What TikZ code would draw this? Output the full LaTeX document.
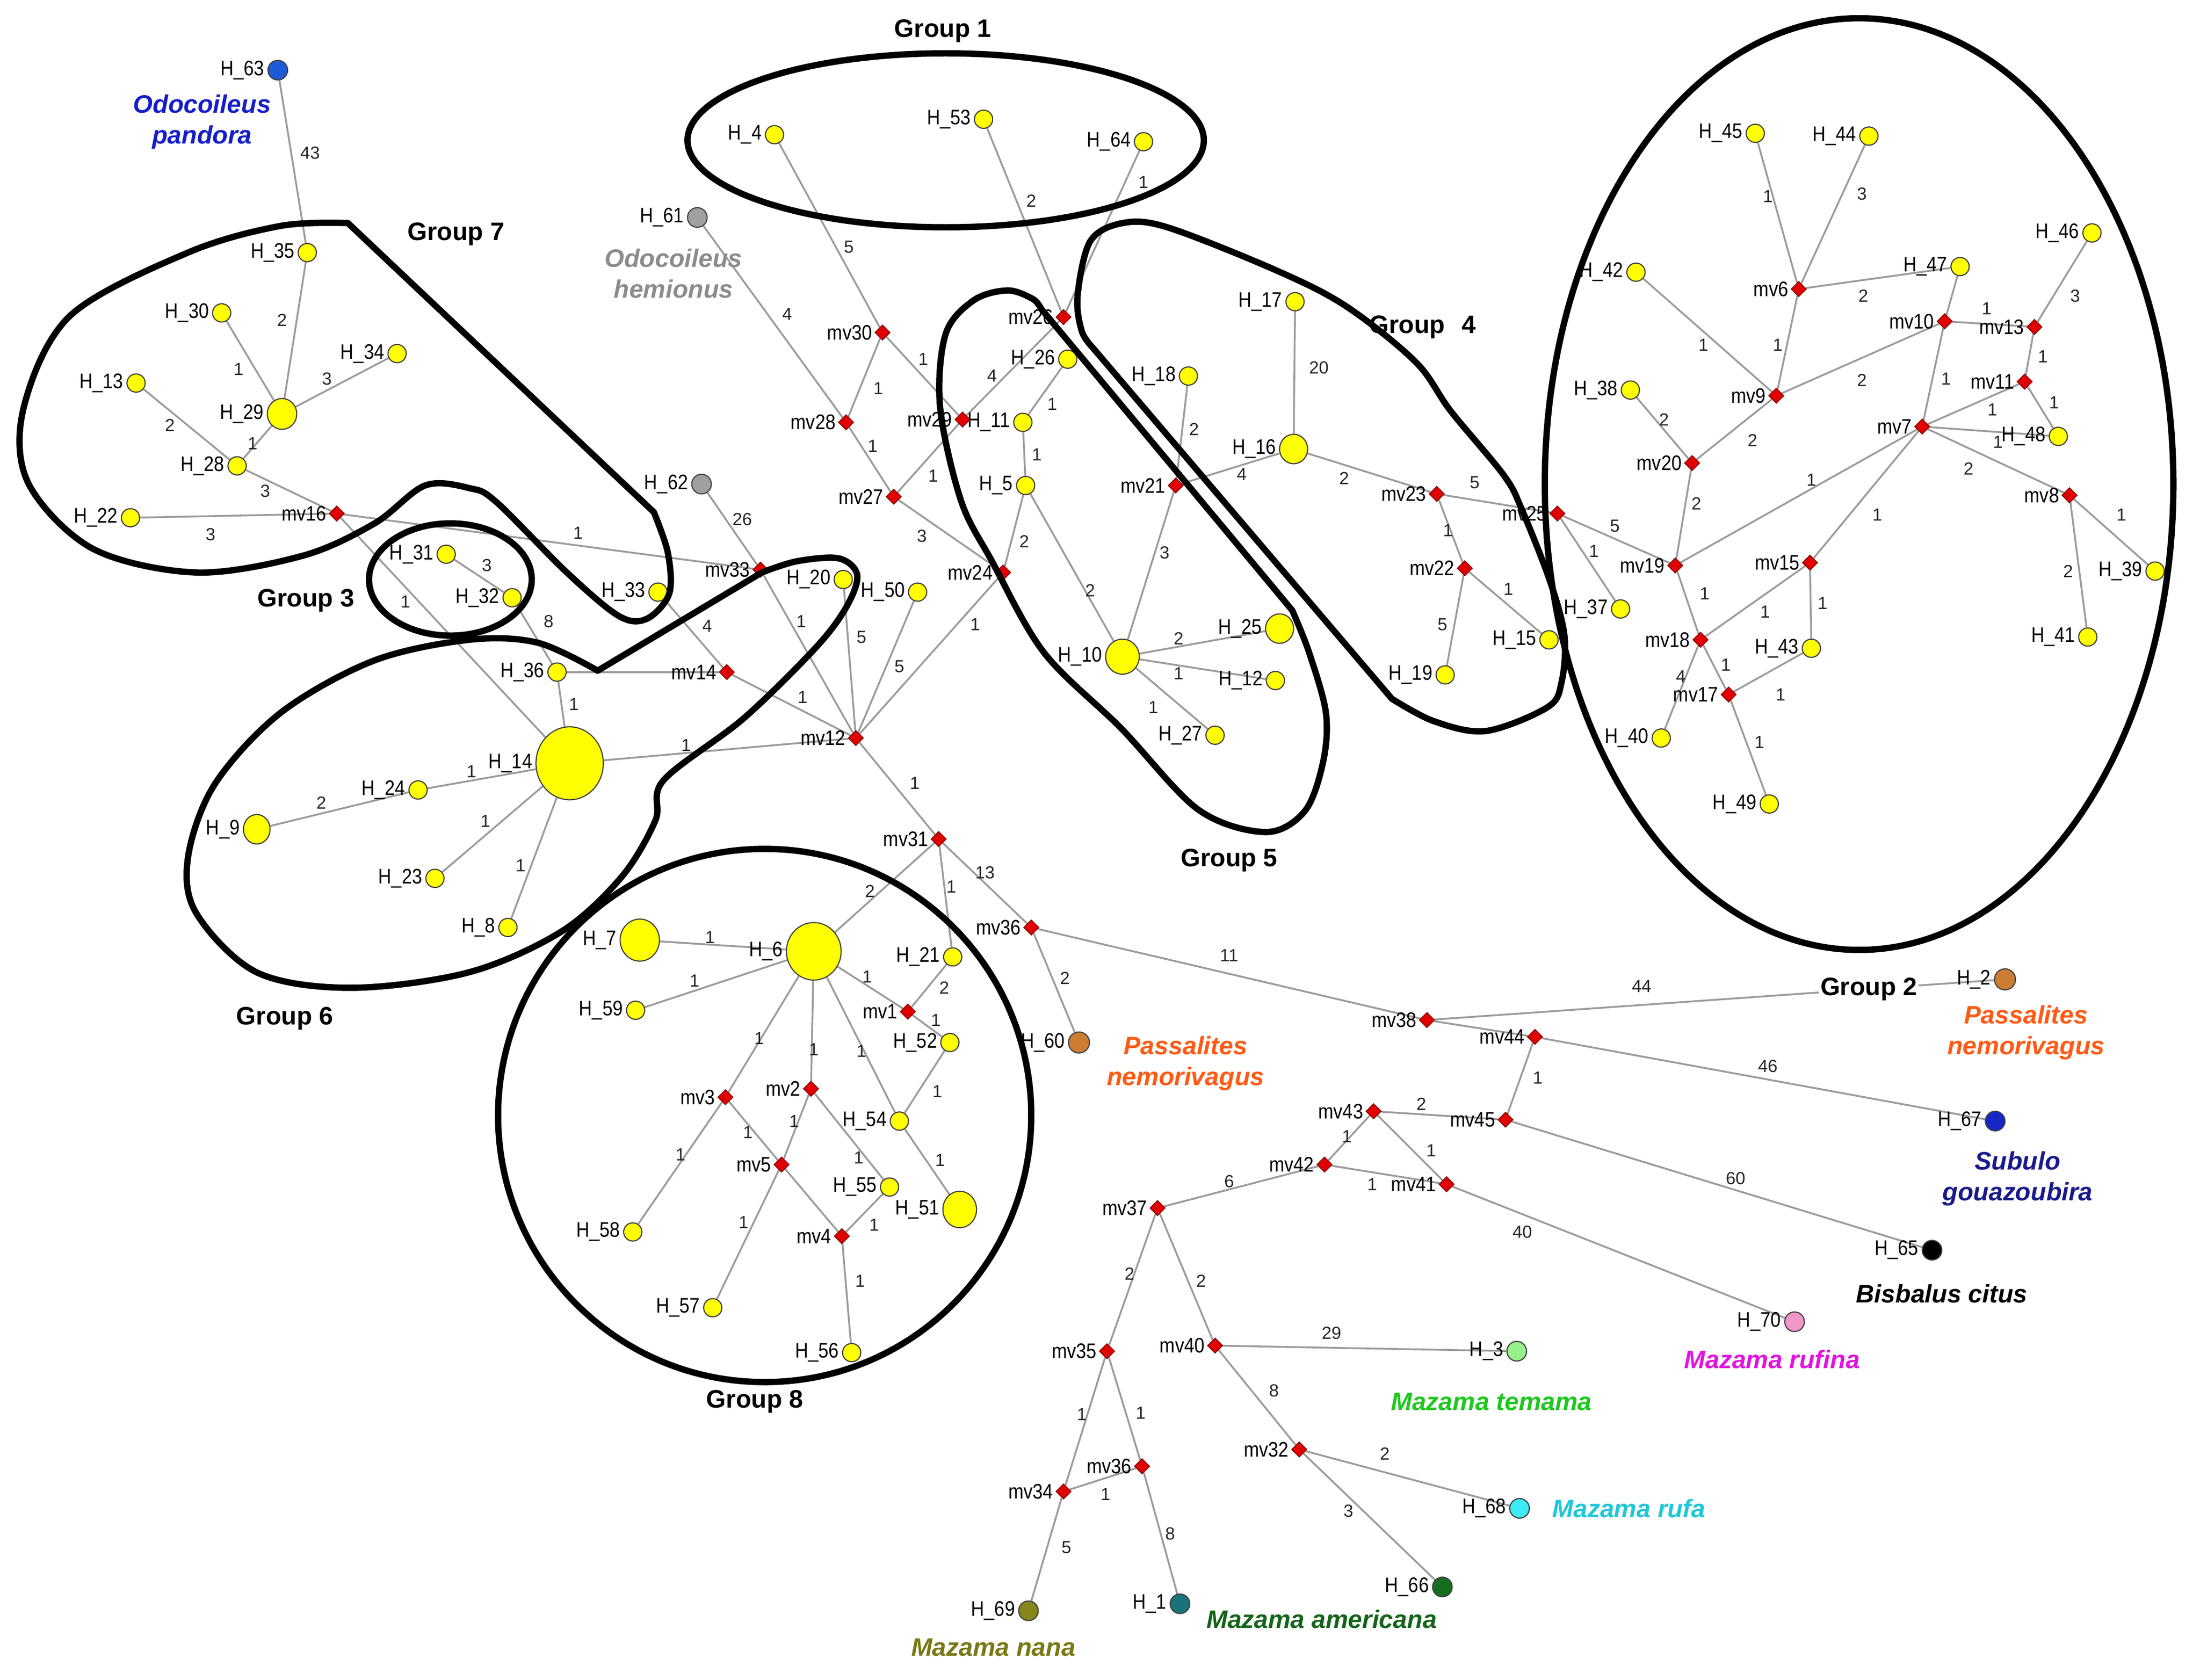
\documentclass[tikz,border=0pt]{standalone}
\usepackage{fontspec}
\setmainfont{Liberation Sans}
\newfontfamily\nlabfont[FakeStretch=0.87]{Liberation Sans}
\usetikzlibrary{shapes.geometric}
\pgfdeclarelayer{bg}
\pgfsetlayers{bg,main}
\definecolor{hyellow}{RGB}{255,255,0}
\definecolor{hblue}{RGB}{30,90,215}
\definecolor{hgrey}{RGB}{160,160,160}
\definecolor{hbrown}{RGB}{205,125,50}
\definecolor{hblueb}{RGB}{20,40,200}
\definecolor{hpink}{RGB}{240,150,200}
\definecolor{hlgreen}{RGB}{150,240,140}
\definecolor{hcyan}{RGB}{60,235,245}
\definecolor{hdgreen}{RGB}{20,110,30}
\definecolor{hteal}{RGB}{25,115,125}
\definecolor{holive}{RGB}{135,135,25}
\definecolor{mvred}{RGB}{225,0,0}
\definecolor{edgegray}{RGB}{155,155,155}
\definecolor{tpandora}{RGB}{20,30,200}
\definecolor{themionus}{RGB}{140,140,140}
\definecolor{tpassal}{RGB}{255,90,20}
\definecolor{tsubulo}{RGB}{25,25,140}
\definecolor{trufina}{RGB}{225,20,225}
\definecolor{ttemama}{RGB}{30,200,30}
\definecolor{trufa}{RGB}{30,200,215}
\definecolor{tamer}{RGB}{20,100,25}
\definecolor{tnana}{RGB}{120,120,20}
\tikzset{
  hap/.style={ellipse, draw=black!75, line width=0.8pt, fill=hyellow, inner sep=0pt, minimum width=13pt, minimum height=13pt},
  sz/.style 2 args={minimum width=#1pt, minimum height=#2pt},
  mvd/.style={diamond, draw=red!45!black, line width=0.5pt, fill=mvred, inner sep=0pt, minimum width=11pt, minimum height=11pt},
  nlab/.style={font=\nlabfont\fontsize{15}{15}\selectfont, inner sep=1pt, anchor=east},
  elab/.style={font=\fontsize{12.5}{12.5}\selectfont, text=black!85, inner sep=0pt},
  edge/.style={draw=edgegray, line width=1.3pt},
  grp/.style={draw=black, line width=4.5pt, line join=round, line cap=round},
  glab/.style={font=\bfseries\fontsize{18}{18}\selectfont, inner sep=1pt},
  sp/.style={font=\bfseries\itshape\fontsize{18}{22}\selectfont, align=center, inner sep=0pt},
}
\newcounter{elc}
\newcommand\hapn[5]{\node[hap,#4] (#1) at (#2,#3) {};\node[nlab] (#1-l) at ([xshift=-1pt]#1.west) {#5};}
\newcommand\mvn[4]{\node[mvd] (#1) at (#2,#3) {};\node[nlab] (#1-l) at ([xshift=-0.5pt]#1.west) {#4};}
\newcommand\ed[5]{\begin{pgfonlayer}{bg}\draw[edge] (#1) -- (#2);\end{pgfonlayer}\stepcounter{elc}\node[elab] (el\arabic{elc}) at (#4,#5) {#3};}
\newcommand\edn[2]{\begin{pgfonlayer}{bg}\draw[edge] (#1) -- (#2);\end{pgfonlayer}}
\begin{document}
\begin{tikzpicture}[x=1pt,y=-1pt]
\useasboundingbox (0,0) rectangle (1568,1197);
\begin{pgfonlayer}{bg}\fill[white] (0,0) rectangle (1568,1197);\end{pgfonlayer}
% haplotypes
\hapn{h63}{198}{50}{fill=hblue,sz={14}{14}}{H\_63}
\hapn{h35}{219}{180}{}{H\_35}
\hapn{h30}{158}{223}{}{H\_30}
\hapn{h34}{283}{252}{}{H\_34}
\hapn{h13}{97}{273}{}{H\_13}
\hapn{h29}{201}{295}{sz={21}{22}}{H\_29}
\hapn{h28}{169}{332}{}{H\_28}
\hapn{h22}{93}{369}{}{H\_22}
\hapn{h31}{318}{395}{}{H\_31}
\hapn{h32}{365}{426}{}{H\_32}
\hapn{h33}{469}{422}{}{H\_33}
\hapn{h36}{397}{479}{}{H\_36}
\hapn{h14}{406}{544}{sz={48}{52}}{H\_14}
\hapn{h24}{298}{563}{}{H\_24}
\hapn{h9}{183}{591}{sz={19}{21}}{H\_9}
\hapn{h23}{310}{626}{}{H\_23}
\hapn{h8}{362}{661}{}{H\_8}
\hapn{h61}{497}{155}{fill=hgrey,sz={14}{14}}{H\_61}
\hapn{h62}{500}{345}{fill=hgrey,sz={14}{14}}{H\_62}
\hapn{h4}{552}{96}{}{H\_4}
\hapn{h53}{701}{85}{}{H\_53}
\hapn{h64}{815}{101}{}{H\_64}
\hapn{h26}{761}{256}{}{H\_26}
\hapn{h11}{729}{301}{}{H\_11}
\hapn{h5}{731}{346}{}{H\_5}
\hapn{h20}{601}{413}{}{H\_20}
\hapn{h50}{654}{422}{}{H\_50}
\hapn{h17}{923}{215}{}{H\_17}
\hapn{h18}{847}{268}{}{H\_18}
\hapn{h16}{922}{320}{sz={20}{21}}{H\_16}
\hapn{h19}{1030}{481}{}{H\_19}
\hapn{h15}{1104}{456}{}{H\_15}
\hapn{h10}{800}{468}{sz={24}{25}}{H\_10}
\hapn{h25}{912}{448}{sz={20}{21}}{H\_25}
\hapn{h12}{909}{485}{}{H\_12}
\hapn{h27}{866}{524}{}{H\_27}
\hapn{h45}{1251}{95}{}{H\_45}
\hapn{h44}{1332}{97}{}{H\_44}
\hapn{h46}{1491}{166}{}{H\_46}
\hapn{h42}{1166}{194}{}{H\_42}
\hapn{h47}{1397}{190}{}{H\_47}
\hapn{h38}{1162}{278}{}{H\_38}
\hapn{h48}{1467}{311}{}{H\_48}
\hapn{h39}{1536}{407}{}{H\_39}
\hapn{h37}{1155}{434}{}{H\_37}
\hapn{h43}{1291}{462}{}{H\_43}
\hapn{h41}{1488}{454}{}{H\_41}
\hapn{h40}{1184}{526}{}{H\_40}
\hapn{h49}{1261}{573}{}{H\_49}
\hapn{h60}{769}{743}{fill=hbrown,sz={15}{15}}{H\_60}
\hapn{h7}{456}{670}{sz={28}{30}}{H\_7}
\hapn{h6}{580}{678}{sz={39}{41}}{H\_6}
\hapn{h59}{453}{720}{}{H\_59}
\hapn{h21}{679}{682}{}{H\_21}
\hapn{h52}{677}{743}{}{H\_52}
\hapn{h54}{641}{799}{}{H\_54}
\hapn{h55}{634}{846}{}{H\_55}
\hapn{h51}{684}{862}{sz={24}{26}}{H\_51}
\hapn{h58}{451}{878}{}{H\_58}
\hapn{h57}{508}{932}{}{H\_57}
\hapn{h56}{607}{964}{}{H\_56}
\hapn{h2}{1429}{698}{fill=hbrown,sz={15}{15}}{H\_2}
\hapn{h67}{1422}{799}{fill=hblueb,sz={14}{14}}{H\_67}
\hapn{h65}{1377}{891}{fill=black,sz={14}{14}}{H\_65}
\hapn{h70}{1279}{942}{fill=hpink,sz={14}{14}}{H\_70}
\hapn{h3}{1081}{963}{fill=hlgreen,sz={14}{14}}{H\_3}
\hapn{h68}{1083}{1075}{fill=hcyan,sz={14}{14}}{H\_68}
\hapn{h66}{1028}{1131}{fill=hdgreen,sz={14}{14}}{H\_66}
\hapn{h69}{733}{1148}{fill=holive,sz={14}{14}}{H\_69}
\hapn{h1}{841}{1143}{fill=hteal,sz={14}{14}}{H\_1}
% median vectors
\mvn{mv16}{240}{366}{mv16}
\mvn{mv33}{542}{406}{mv33}
\mvn{mv14}{518}{479}{mv14}
\mvn{mv12}{610}{526}{mv12}
\mvn{mv30}{629}{237}{mv30}
\mvn{mv28}{603}{301}{mv28}
\mvn{mv29}{686}{299}{mv29}
\mvn{mv26}{758}{226}{mv26}
\mvn{mv27}{637}{354}{mv27}
\mvn{mv24}{715}{408}{mv24}
\mvn{mv21}{838}{346}{mv21}
\mvn{mv23}{1024}{352}{mv23}
\mvn{mv22}{1044}{405}{mv22}
\mvn{mv25}{1110}{366}{mv25}
\mvn{mv6}{1282}{206}{mv6}
\mvn{mv10}{1386}{229}{mv10}
\mvn{mv13}{1450}{233}{mv13}
\mvn{mv9}{1266}{282}{mv9}
\mvn{mv11}{1443}{272}{mv11}
\mvn{mv7}{1370}{304}{mv7}
\mvn{mv20}{1206}{330}{mv20}
\mvn{mv8}{1475}{353}{mv8}
\mvn{mv19}{1194}{403}{mv19}
\mvn{mv15}{1290}{401}{mv15}
\mvn{mv18}{1212}{456}{mv18}
\mvn{mv17}{1232}{495}{mv17}
\mvn{mv31}{669}{598}{mv31}
\mvn{mv36a}{735}{661}{mv36}
\mvn{mv1}{647}{721}{mv1}
\mvn{mv2}{578}{776}{mv2}
\mvn{mv3}{517}{782}{mv3}
\mvn{mv5}{557}{830}{mv5}
\mvn{mv4}{600}{881}{mv4}
\mvn{mv38}{1017}{727}{mv38}
\mvn{mv44}{1094}{739}{mv44}
\mvn{mv43}{979}{792}{mv43}
\mvn{mv45}{1073}{798}{mv45}
\mvn{mv42}{944}{830}{mv42}
\mvn{mv41}{1031}{844}{mv41}
\mvn{mv37}{825}{861}{mv37}
\mvn{mv35}{789}{963}{mv35}
\mvn{mv40}{866}{959}{mv40}
\mvn{mv32}{926}{1033}{mv32}
\mvn{mv36b}{814}{1045}{mv36}
\mvn{mv34}{758}{1063}{mv34}
% edges
\ed{h63}{h35}{43}{221}{109}
\ed{h35}{h29}{2}{201}{228}
\ed{h30}{h29}{1}{170}{263}
\ed{h34}{h29}{3}{233}{270}
\ed{h29}{h28}{1}{180}{316}
\ed{h13}{h28}{2}{121}{303}
\ed{h28}{mv16}{3}{189}{350}
\ed{h22}{mv16}{3}{150}{381}
\ed{mv16}{mv33}{1}{412}{380}
\ed{mv16}{h14}{1}{289}{429}
\ed{h31}{h32}{3}{347}{403}
\ed{h32}{h36}{8}{391}{443}
\ed{h36}{h14}{1}{409}{502}
\edn{h36}{mv14}
\ed{h33}{mv14}{4}{504}{446}
\ed{h62}{mv33}{26}{529}{370}
\ed{mv33}{mv12}{1}{571}{443}
\ed{mv14}{mv12}{1}{572}{497}
\ed{h14}{mv12}{1}{489}{531}
\ed{h20}{mv12}{5}{614}{454}
\ed{h50}{mv12}{5}{641}{475}
\ed{mv24}{mv12}{1}{695}{445}
\ed{h14}{h24}{1}{336}{550}
\ed{h24}{h9}{2}{229}{572}
\ed{h14}{h23}{1}{346}{585}
\ed{h14}{h8}{1}{371}{617}
\ed{h61}{mv28}{4}{561}{224}
\ed{h4}{mv30}{5}{605}{176}
\ed{mv30}{mv28}{1}{626}{277}
\ed{mv30}{mv29}{1}{658}{256}
\ed{mv28}{mv27}{1}{622}{318}
\ed{mv29}{mv27}{1}{665}{339}
\ed{mv29}{mv26}{4}{707}{268}
\ed{h53}{mv26}{2}{735}{143}
\ed{h64}{mv26}{1}{815}{130}
\ed{mv27}{mv24}{3}{657}{382}
\ed{h26}{h11}{1}{750}{288}
\ed{h11}{h5}{1}{739}{324}
\ed{h5}{mv24}{2}{730}{386}
\ed{h5}{h10}{2}{777}{421}
\ed{mv21}{h10}{3}{830}{394}
\ed{h18}{mv21}{2}{851}{306}
\ed{mv21}{h16}{4}{885}{338}
\ed{h17}{h16}{20}{940}{262}
\ed{h16}{mv23}{2}{958}{341}
\ed{mv23}{mv25}{5}{1051}{344}
\ed{mv23}{mv22}{1}{1032}{378}
\ed{mv22}{h19}{5}{1028}{445}
\ed{mv22}{h15}{1}{1075}{420}
\ed{mv25}{mv19}{5}{1151}{375}
\ed{mv25}{h37}{1}{1136}{393}
\ed{h10}{h25}{2}{840}{455}
\ed{h10}{h12}{1}{840}{480}
\ed{h10}{h27}{1}{822}{504}
\ed{mv12}{mv31}{1}{652}{558}
\ed{mv31}{h6}{2}{620}{635}
\ed{mv31}{h21}{1}{678}{632}
\ed{mv31}{mv36a}{13}{702}{622}
\ed{mv36a}{h60}{2}{759}{697}
\ed{mv36a}{mv38}{11}{876}{681}
\ed{h7}{h6}{1}{506}{668}
\ed{h59}{h6}{1}{495}{699}
\ed{h6}{mv1}{1}{618}{696}
\ed{h21}{mv1}{2}{673}{704}
\ed{mv1}{h52}{1}{667}{727}
\ed{h6}{mv3}{1}{541}{740}
\ed{h6}{mv2}{1}{580}{748}
\ed{h6}{h54}{1}{614}{749}
\ed{h52}{h54}{1}{668}{778}
\ed{h54}{h51}{1}{670}{827}
\ed{mv3}{mv5}{1}{533}{807}
\ed{mv2}{mv5}{1}{566}{799}
\ed{mv2}{h55}{1}{612}{825}
\ed{mv3}{h58}{1}{485}{823}
\edn{mv5}{mv4}
\ed{mv5}{h57}{1}{530}{871}
\ed{h55}{mv4}{1}{623}{873}
\ed{mv4}{h56}{1}{613}{913}
\ed{mv38}{h2}{44}{1170}{703}
\edn{mv38}{mv44}
\ed{mv44}{h67}{46}{1260}{760}
\ed{mv44}{mv45}{1}{1096}{768}
\ed{mv43}{mv45}{2}{1013}{787}
\ed{mv45}{h65}{60}{1237}{840}
\ed{mv43}{mv42}{1}{960}{810}
\ed{mv43}{mv41}{1}{1020}{820}
\ed{mv42}{mv41}{1}{978}{844}
\ed{mv41}{h70}{40}{1085}{878}
\ed{mv42}{mv37}{6}{876}{842}
\ed{mv37}{mv35}{2}{805}{908}
\ed{mv37}{mv40}{2}{856}{913}
\ed{mv40}{h3}{29}{949}{950}
\ed{mv40}{mv32}{8}{908}{991}
\ed{mv32}{h68}{2}{987}{1036}
\ed{mv32}{h66}{3}{961}{1077}
\ed{mv35}{mv34}{1}{771}{1008}
\ed{mv35}{mv36b}{1}{813}{1007}
\ed{mv34}{mv36b}{1}{788}{1065}
\ed{mv34}{h69}{5}{760}{1103}
\ed{mv36b}{h1}{8}{834}{1093}
\ed{h45}{mv6}{1}{1260}{140}
\ed{h44}{mv6}{3}{1327}{138}
\ed{mv6}{h47}{2}{1328}{211}
\ed{mv6}{mv9}{1}{1267}{246}
\ed{h42}{mv9}{1}{1214}{246}
\ed{mv9}{mv10}{2}{1327}{271}
\edn{h47}{mv10}
\ed{mv10}{mv13}{1}{1416}{220}
\ed{h46}{mv13}{3}{1479}{211}
\ed{mv13}{mv11}{1}{1456}{254}
\ed{mv11}{mv7}{1}{1420}{292}
\ed{mv11}{h48}{1}{1464}{287}
\ed{mv7}{h48}{1}{1424}{315}
\ed{mv10}{mv7}{1}{1387}{270}
\ed{mv7}{mv8}{2}{1403}{334}
\ed{mv7}{mv19}{1}{1291}{342}
\ed{mv7}{mv15}{1}{1338}{367}
\ed{mv8}{h39}{1}{1512}{367}
\ed{mv8}{h41}{2}{1474}{407}
\ed{h38}{mv20}{2}{1186}{299}
\ed{mv9}{mv20}{2}{1249}{314}
\ed{mv20}{mv19}{2}{1209}{359}
\ed{mv19}{mv18}{1}{1215}{423}
\ed{mv15}{mv18}{1}{1258}{436}
\ed{mv15}{h43}{1}{1299}{430}
\ed{mv18}{mv17}{1}{1230}{474}
\ed{mv18}{h40}{4}{1198}{482}
\ed{mv17}{h43}{1}{1269}{495}
\ed{mv17}{h49}{1}{1254}{529}
% species labels
\node[sp,text=tpandora] (sp1) at (144,87) {Odocoileus\\pandora};
\node[sp,text=themionus] (sp2) at (480,195) {Odocoileus\\hemionus};
\node[sp,text=tpassal] (sp3) at (845,758) {Passalites\\nemorivagus};
\node[sp,text=tpassal] (sp4) at (1444,736) {Passalites\\nemorivagus};
\node[sp,text=tsubulo] (sp5) at (1438,840) {Subulo\\gouazoubira};
\node[sp,text=black] (sp6) at (1384,922) {Bisbalus citus};
\node[sp,text=trufina] (sp7) at (1263,969) {Mazama rufina};
\node[sp,text=ttemama] (sp8) at (1063,999) {Mazama temama};
\node[sp,text=trufa] (sp9) at (1161,1075) {Mazama rufa};
\node[sp,text=tamer] (sp10) at (942,1154) {Mazama americana};
\node[sp,text=tnana] (sp11) at (708,1174) {Mazama nana};
% group labels
\node[glab] (g1) at (672,22) {Group 1};
\node[glab] (g7) at (325,167) {Group 7};
\node[glab] (g4) at (1014,233) {Group\hspace{12pt}4};
\node[glab] (g3) at (218,428) {Group 3};
\node[glab] (g5) at (876,613) {Group 5};
\node[glab] (g6) at (203,726) {Group 6};
\node[glab,fill=white] (g2) at (1332,705) {Group 2};
\node[glab] (g8) at (538,999) {Group 8};
% group outlines
\draw[grp] (674,100) ellipse [x radius=184pt, y radius=62pt];
\draw[grp] (1325,345) ellipse [x radius=224pt, y radius=332pt];
\draw[grp] (321,413) ellipse [x radius=58pt, y radius=40pt];
\draw[grp] (545,795) circle [radius=190pt];
\draw[grp] (248,159) -- (466,365) plot[smooth,tension=0.55] coordinates {(466,365) (476,394) (477,423) (461,441) (441,439) (404,408) (354,358) (335,348) (303,346) (267,373) (216,396) (140,408) (66,391) (20,344) (17,290) (50,225) (134,180) (200,161) (248,159)};
\draw[grp] (742,220) -- (921,435) plot[smooth,tension=0.55] coordinates {(921,435) (933,465) (945,508) (943,543) (930,578) (902,593) (854,577) (799,519) (744,465) (707,400) (685,357) (670,290) (674,238) (694,214) (718,207) (736,213) (742,220)};
\draw[grp] (779,248) -- (992,498) plot[smooth,tension=0.55] coordinates {(992,498) (1022,514) (1059,521) (1103,504) (1113,486) (1115,453) (1105,415) (1085,364) (1072,339) (1034,293) (1009,258) (959,218) (908,192) (832,162) (800,159) (777,172) (768,211) (771,236) (779,248)};
\draw[grp] (426,478) -- (543,408) plot[smooth,tension=0.55] coordinates {(543,408) (568,400) (598,398) (611,410) (603,433) (581,462) (530,512) (473,556) (467,585) (443,625) (400,664) (334,693) (250,704) (183,693) (140,651) (134,611) (153,559) (200,508) (266,471) (334,456) (383,458) (426,478)};
\end{tikzpicture}
\end{document}
